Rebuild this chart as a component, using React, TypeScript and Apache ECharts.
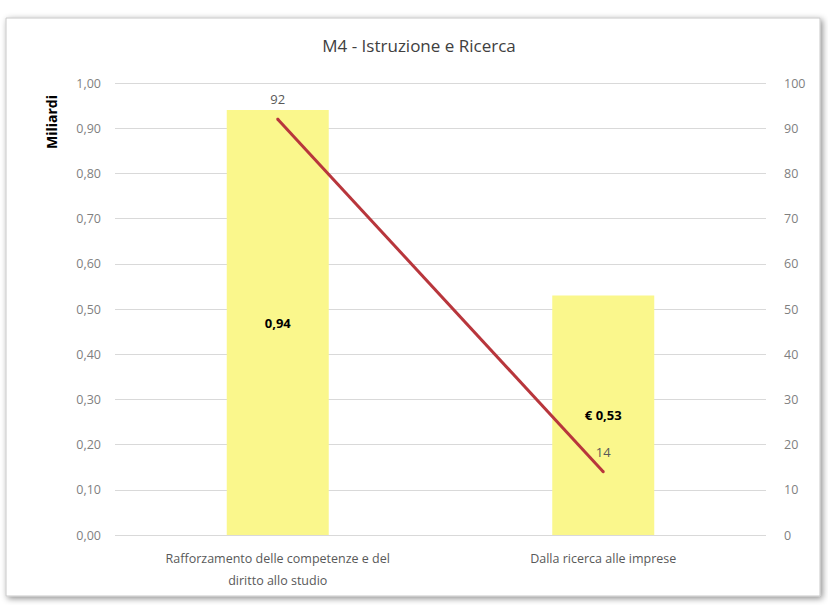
import React, { useEffect, useRef } from "react";
import * as echarts from "echarts";

const categories = ["Rafforzamento delle competenze e del\ndiritto allo studio", "Dalla ricerca alle imprese"];
const barValues = [0.94, 0.53];
const barLabels = ["0,94", "€ 0,53"];
const lineValues = [92, 14];
const title = "M4 - Istruzione e Ricerca";
const leftAxisName = "Miliardi";

const FONT = "'Open Sans', 'Noto Sans', sans-serif";

export default function App() {
  const ref = useRef<HTMLDivElement>(null);
  useEffect(() => {
    if (!ref.current) return;
    const chart = echarts.init(ref.current, undefined, { renderer: "svg" });
    chart.setOption({
      animation: false,
      backgroundColor: "#ffffff",
      graphic: [
        {
          type: "rect",
          z: -10,
          shape: { x: 6, y: 18, width: 814, height: 578 },
          style: {
            fill: "#ffffff",
            stroke: "#c8c8c8",
            lineWidth: 1,
            shadowBlur: 6,
            shadowOffsetX: 2,
            shadowOffsetY: 2,
            shadowColor: "rgba(0,0,0,0.45)",
          },
        },
        {
          type: "text",
          x: 51,
          y: 122,
          rotation: Math.PI / 2,
          style: {
            text: leftAxisName,
            fontFamily: FONT,
            fontSize: 14,
            fontWeight: "bold",
            fill: "#000000",
            align: "center",
            verticalAlign: "middle",
          },
        },
      ],
      title: {
        text: title,
        left: 414,
        top: 32,
        textAlign: "center",
        textStyle: { fontFamily: FONT, fontSize: 17, fontWeight: "normal", color: "#404040" },
      },
      grid: { left: 115, right: 62, top: 83, bottom: 70, containLabel: false },
      xAxis: {
        type: "category",
        data: categories,
        axisLine: { show: false },
        axisTick: { show: false },
        axisLabel: {
          color: "#595959",
          fontFamily: FONT,
          fontSize: 12.5,
          lineHeight: 22,
          margin: 12,
          interval: 0,
        },
      },
      yAxis: [
        {
          type: "value",
          min: 0,
          max: 1,
          interval: 0.1,
          axisLine: { show: false },
          axisTick: { show: false },
          splitLine: { lineStyle: { color: "#d9d9d9", width: 1 } },
          axisLabel: {
            color: "#7f7f7f",
            fontFamily: FONT,
            fontSize: 12.5,
            margin: 14,
            formatter: (v: number) => v.toFixed(2).replace(".", ","),
          },
        },
        {
          type: "value",
          min: 0,
          max: 100,
          interval: 10,
          axisLine: { show: false },
          axisTick: { show: false },
          splitLine: { show: false },
          axisLabel: {
            color: "#7f7f7f",
            fontFamily: FONT,
            fontSize: 12.5,
            margin: 18,
          },
        },
      ],
      series: [
        {
          type: "bar",
          yAxisIndex: 0,
          data: barValues,
          barWidth: 102,
          itemStyle: { color: "#faf78c" },
          label: {
            show: true,
            position: "inside",
            fontFamily: FONT,
            fontSize: 13,
            fontWeight: "bold",
            color: "#000000",
            formatter: (p: any) => barLabels[p.dataIndex],
          },
        },
        {
          type: "line",
          yAxisIndex: 1,
          data: lineValues,
          symbol: "circle",
          symbolSize: 3,
          showSymbol: true,
          itemStyle: { color: "#b8363c" },
          lineStyle: { color: "#b8363c", width: 3 },
          label: {
            show: true,
            position: "top",
            distance: 12,
            fontFamily: FONT,
            fontSize: 13,
            color: "#595959",
          },
        },
      ],
    });
    return () => chart.dispose();
  }, []);
  return (
    <div
      ref={ref}
      style={{ position: "fixed", left: 0, top: 0, width: 828, height: 605 }}
    />
  );
}
